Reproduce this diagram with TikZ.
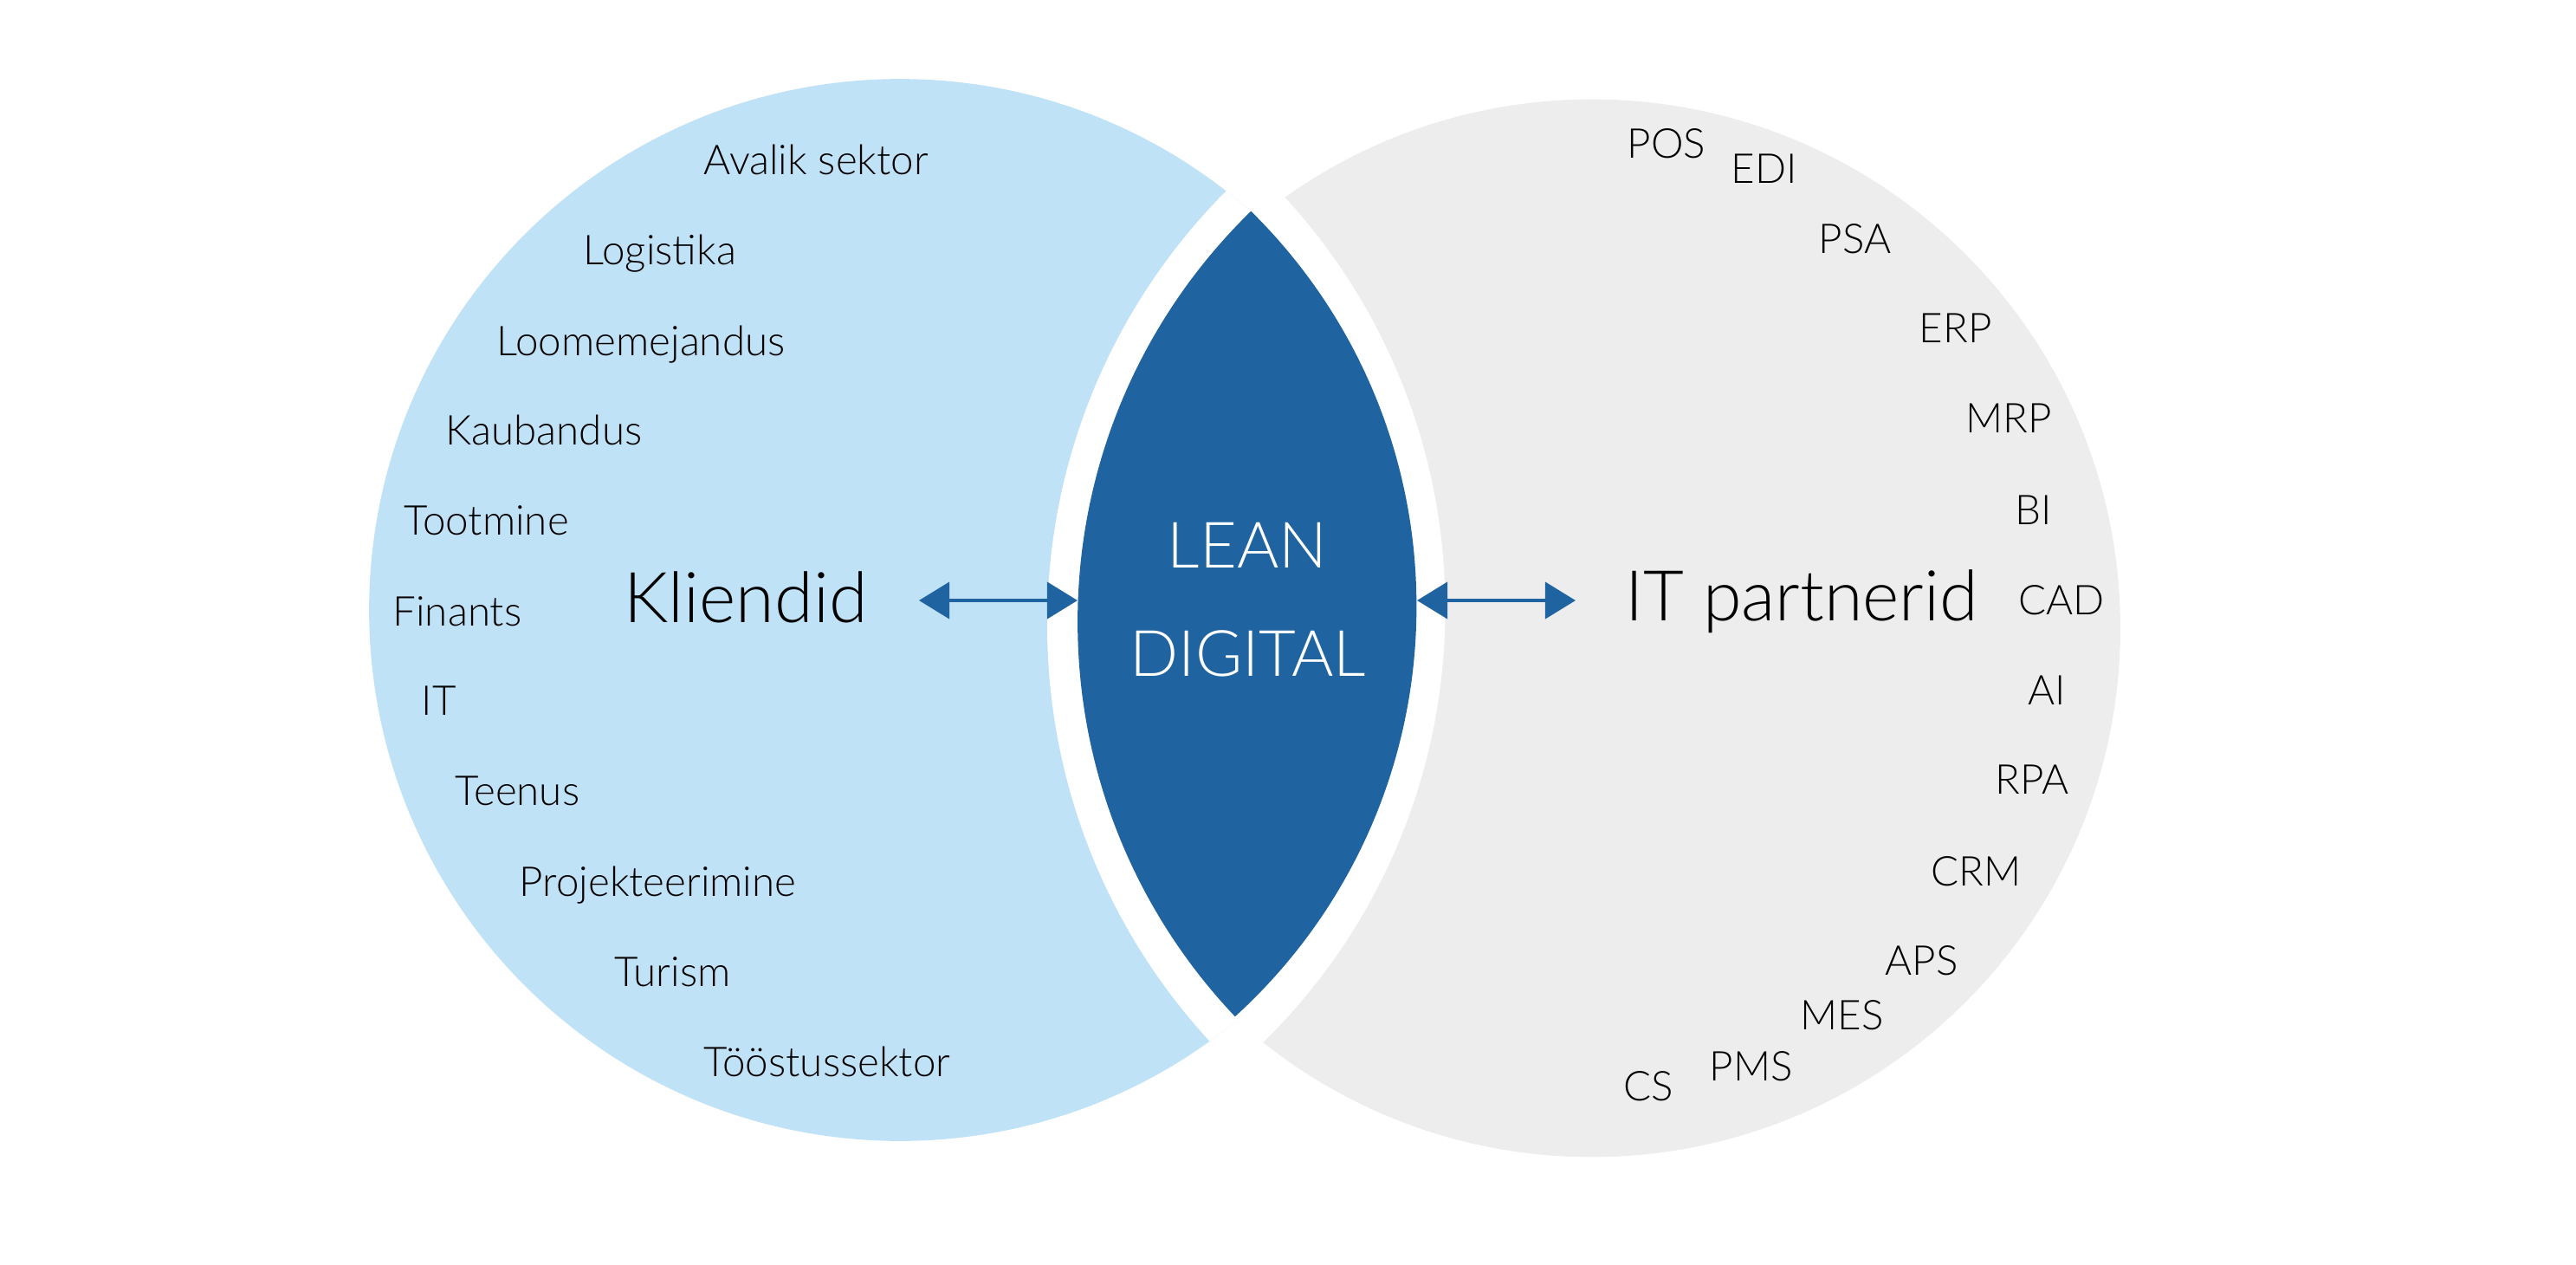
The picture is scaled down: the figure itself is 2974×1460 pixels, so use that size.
\documentclass[tikz,border=0pt]{standalone}
\usepackage{fontspec}
\IfFontExistsTF{Lato Light}{\setmainfont{Lato Light}}{\setmainfont{Lato}}
\usetikzlibrary{arrows.meta}
\definecolor{lensblue}{HTML}{1F64A0}
\definecolor{paleblue}{HTML}{C0E2F7}
\definecolor{palegrey}{HTML}{EDEDED}

\begin{document}
\begin{tikzpicture}[x=0.01cm, y=-0.01cm,
    sector/.style={anchor=base west, inner sep=0pt, font=\fontsize{13.5}{16}\selectfont},
    bigtxt/.style={anchor=base, font=\fontsize{23}{28}\selectfont},
    lenstxt/.style={anchor=base, white, font=\fontsize{21}{26}\selectfont},
    link/.style={{Triangle[length=0.35cm,width=0.42cm]}-{Triangle[length=0.35cm,width=0.42cm]},
                 line width=1.1pt, lensblue}]
  \useasboundingbox (0,0) rectangle (2974,1460);

  % Two circles
  \fill[paleblue] (1039,704) circle[radius=6.125cm];
  \fill[palegrey] (1837.6,725) circle[radius=6.10cm];

  % White gaps round the middle
  \begin{scope}
    \clip (1039,704) circle[radius=6.125cm];
    \fill[white] (1918.7,721) circle[radius=7.093cm];
  \end{scope}
  \begin{scope}
    \clip (1837.6,725) circle[radius=6.10cm];
    \fill[white] (967.4,702.5) circle[radius=7.007cm];
  \end{scope}

  % Lens
  \begin{scope}
    \clip (1905.6,717.8) circle[radius=6.611cm];
    \fill[lensblue] (995.7,699.8) circle[radius=6.393cm];
  \end{scope}

  \node[lenstxt] (lean) at (1440,655) {LEAN};
  \node[lenstxt] (digital) at (1441,780) {DIGITAL};

  % Centre labels and arrows
  \node[bigtxt] (kliendid) at (861,718) {Kliendid};
  \node[bigtxt] (partnerid) at (2080,716) {IT partnerid};

  \coordinate (klE) at (1061,693);
  \coordinate (lensW) at (1244,693);
  \coordinate (lensE) at (1636,693);
  \coordinate (itW) at (1819,693);
  \draw[link] (klE) -- (lensW);
  \draw[link] (lensE) -- (itW);

  % Sectors
  \foreach \x/\y/\t [count=\i] in {812/201/Avalik sektor, 673/305/Logistika,
      573/410/Loomemejandus, 514/513/Kaubandus, 466/617/Tootmine,
      453/722/Finants, 486/825/IT, 525/929/Teenus, 599/1034/Projekteerimine,
      709/1138/Turism, 812/1242/Tööstussektor}
    \node[sector] (sec\i) at (\x,\y) {\t};

  % IT systems
  \foreach \x/\y/\t [count=\i] in {1878/182/POS, 1998/211/EDI, 2099/292/PSA,
      2215/395/ERP, 2269/499/MRP, 2326/605/BI, 2330/709/CAD, 2341/813/AI,
      2303/916/RPA, 2229/1022/CRM, 2176/1125/APS, 2078/1188/MES,
      1973/1247/PMS, 1874/1270/CS}
    \node[sector] (sys\i) at (\x,\y) {\t};
\end{tikzpicture}
\end{document}
